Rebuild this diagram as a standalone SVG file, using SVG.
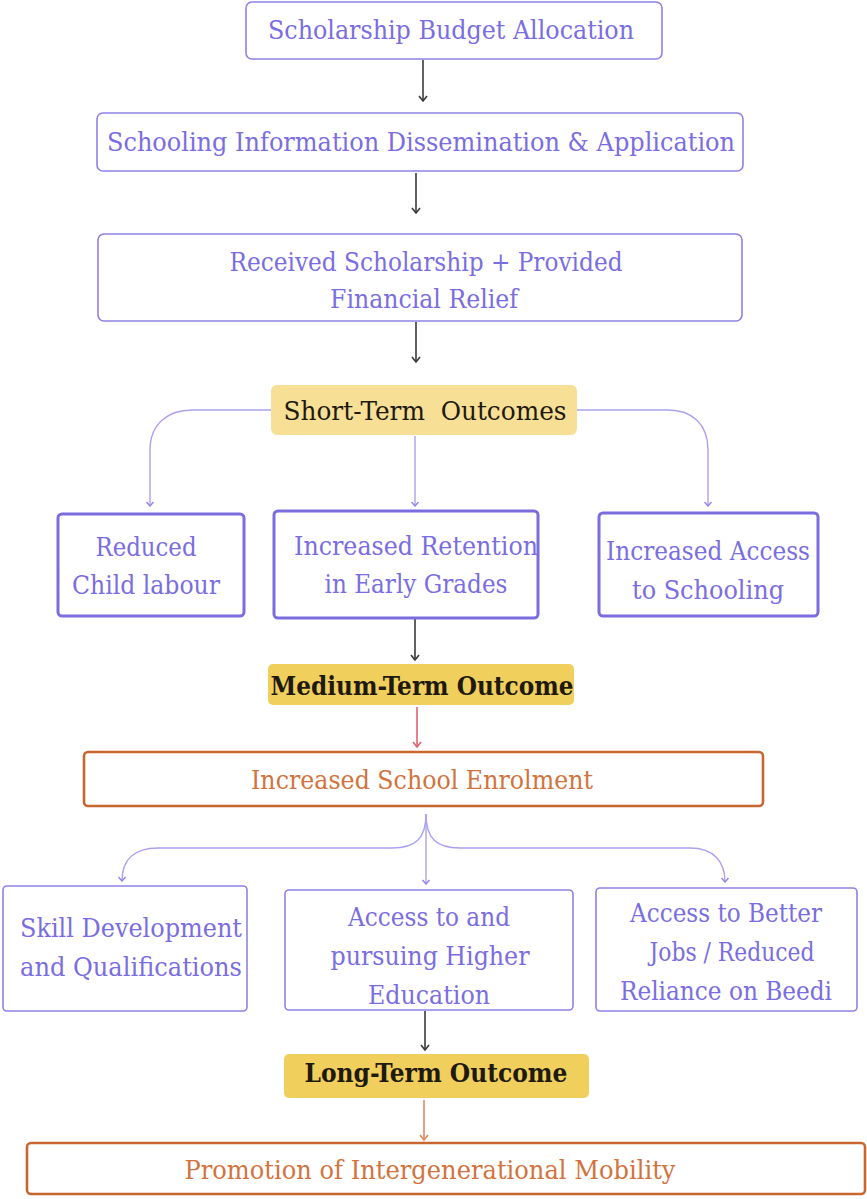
<svg xmlns="http://www.w3.org/2000/svg" width="867" height="1199" viewBox="0 0 867 1199">
  <style>
    text { font-family: "DejaVu Serif Condensed", "DejaVu Serif", "Liberation Serif", serif; font-size: 26px; text-anchor: middle; dominant-baseline: central; }
    .pt { fill: #7a6de2; }
    .ot { fill: #d2733e; }
    .bt { fill: #1e1a10; }
    .bold { font-weight: bold; }
    .pre { white-space: pre; }
    .box { fill: #ffffff; stroke: #8d82e6; stroke-width: 1.6; }
    .box2 { fill: #ffffff; stroke: #7c6ddf; stroke-width: 3; }
    .obox { fill: #ffffff; stroke: #c9662f; stroke-width: 2.6; }
    .ylight { fill: #f7df96; }
    .ydark { fill: #f1cf5c; }
    .dark { fill: none; stroke: #3a3a3a; stroke-width: 1.6; marker-end: url(#ahDark); }
    .lav { fill: none; stroke: #aaa2f0; stroke-width: 1.4; marker-end: url(#ahLav); }
    .red { fill: none; stroke: #e3606f; stroke-width: 1.6; marker-end: url(#ahRed); }
    .org { fill: none; stroke: #e38a5b; stroke-width: 1.6; marker-end: url(#ahOrg); }
  </style>
  <defs>
    <!-- open chevron heads, drawn pointing along +x so orient="auto" follows the line -->
    <marker id="ahDark" viewBox="0 0 10 10" refX="9" refY="5" markerWidth="10" markerHeight="10" markerUnits="userSpaceOnUse" orient="auto">
      <path d="M4,1 L9,5 L4,9" fill="none" stroke="#3a3a3a" stroke-width="1.6"/>
    </marker>
    <marker id="ahLav" viewBox="0 0 10 10" refX="9" refY="5" markerWidth="10" markerHeight="10" markerUnits="userSpaceOnUse" orient="auto">
      <path d="M5,1.5 L9,5 L5,8.5" fill="none" stroke="#8f85ea" stroke-width="1.4"/>
    </marker>
    <marker id="ahRed" viewBox="0 0 10 10" refX="9" refY="5" markerWidth="10" markerHeight="10" markerUnits="userSpaceOnUse" orient="auto">
      <path d="M4,1 L9,5 L4,9" fill="none" stroke="#e3606f" stroke-width="1.6"/>
    </marker>
    <marker id="ahOrg" viewBox="0 0 10 10" refX="9" refY="5" markerWidth="10" markerHeight="10" markerUnits="userSpaceOnUse" orient="auto">
      <path d="M4,1 L9,5 L4,9" fill="none" stroke="#e38a5b" stroke-width="1.6"/>
    </marker>
  </defs>

  <rect width="867" height="1199" fill="#ffffff"/>

  <!-- connectors -->
  <g id="connectors">
    <line class="dark" x1="423" y1="60" x2="423" y2="101"/>
    <line class="dark" x1="416" y1="173" x2="416" y2="213"/>
    <line class="dark" x1="416" y1="322" x2="416" y2="362"/>
    <path class="lav" d="M271,410 L192,410 C168,410 150,424 150,450 L150,506"/>
    <path class="lav" d="M415,436 L415,506"/>
    <path class="lav" d="M577,410 L668,410 C692,410 708,424 708,450 L708,506"/>
    <line class="dark" x1="415" y1="619" x2="415" y2="660"/>
    <line class="red" x1="417" y1="707" x2="417" y2="747"/>
    <path class="lav" d="M426,814 C426,838 416,848 392,848 L158,848 C134,848 122,860 122,881"/>
    <path class="lav" d="M426,814 L426,884"/>
    <path class="lav" d="M426,814 C426,838 436,848 460,848 L690,848 C714,848 725,862 725,882"/>
    <line class="dark" x1="425" y1="1011" x2="425" y2="1050"/>
    <line class="org" x1="424" y1="1100" x2="424" y2="1140"/>
  </g>

  <g id="budget">
    <rect class="box" x="246" y="2" width="416" height="57" rx="6"/>
    <text class="pt" x="451" y="30" textLength="366" lengthAdjust="spacingAndGlyphs">Scholarship Budget Allocation</text>
  </g>

  <g id="dissemination">
    <rect class="box" x="97" y="113" width="646" height="58" rx="6"/>
    <text class="pt" x="421" y="142" textLength="628" lengthAdjust="spacingAndGlyphs">Schooling Information Dissemination &amp; Application</text>
  </g>

  <g id="received">
    <rect class="box" x="98" y="234" width="644" height="87" rx="6"/>
    <text class="pt" x="426" y="262" textLength="393" lengthAdjust="spacingAndGlyphs">Received Scholarship + Provided</text>
    <text class="pt" x="424" y="299" textLength="188" lengthAdjust="spacingAndGlyphs">Financial Relief</text>
  </g>

  <g id="short-term">
    <rect class="ylight" x="271" y="385" width="306" height="50" rx="6"/>
    <text class="bt pre" x="425" y="411" textLength="283" lengthAdjust="spacingAndGlyphs">Short-Term  Outcomes</text>
  </g>

  <g id="child-labour">
    <rect class="box2" x="58" y="514" width="186" height="102" rx="4"/>
    <text class="pt" x="146" y="547" textLength="101" lengthAdjust="spacingAndGlyphs">Reduced</text>
    <text class="pt" x="146" y="585" textLength="148" lengthAdjust="spacingAndGlyphs">Child labour</text>
  </g>

  <g id="retention">
    <rect class="box2" x="274" y="511" width="264" height="107" rx="4"/>
    <text class="pt" x="416" y="546" textLength="244" lengthAdjust="spacingAndGlyphs">Increased Retention</text>
    <text class="pt" x="416" y="584" textLength="183" lengthAdjust="spacingAndGlyphs">in Early Grades</text>
  </g>

  <g id="access-schooling">
    <rect class="box2" x="599" y="513" width="219" height="103" rx="4"/>
    <text class="pt" x="708" y="551" textLength="204" lengthAdjust="spacingAndGlyphs">Increased Access</text>
    <text class="pt" x="708" y="590" textLength="152" lengthAdjust="spacingAndGlyphs">to Schooling</text>
  </g>

  <g id="medium-term">
    <rect class="ydark" x="268" y="664" width="306" height="41" rx="5"/>
    <text class="bt bold" x="422" y="686" textLength="303" lengthAdjust="spacingAndGlyphs">Medium-Term Outcome</text>
  </g>

  <g id="enrolment">
    <rect class="obox" x="84" y="752" width="679" height="54" rx="4"/>
    <text class="ot" x="422" y="780" textLength="342" lengthAdjust="spacingAndGlyphs">Increased School Enrolment</text>
  </g>

  <g id="skills">
    <rect class="box" x="3" y="886" width="244" height="125" rx="4"/>
    <text class="pt" x="131" y="928" textLength="222" lengthAdjust="spacingAndGlyphs">Skill Development</text>
    <text class="pt" x="131" y="967" textLength="222" lengthAdjust="spacingAndGlyphs">and Qualifications</text>
  </g>

  <g id="higher-education">
    <rect class="box" x="285" y="890" width="288" height="120" rx="4"/>
    <text class="pt" x="429" y="917" textLength="162" lengthAdjust="spacingAndGlyphs">Access to and</text>
    <text class="pt" x="430" y="956" textLength="199" lengthAdjust="spacingAndGlyphs">pursuing Higher</text>
    <text class="pt" x="429" y="995" textLength="122" lengthAdjust="spacingAndGlyphs">Education</text>
  </g>

  <g id="better-jobs">
    <rect class="box" x="596" y="888" width="261" height="123" rx="4"/>
    <text class="pt" x="726" y="913" textLength="192" lengthAdjust="spacingAndGlyphs">Access to Better</text>
    <text class="pt" x="732" y="952" textLength="165" lengthAdjust="spacingAndGlyphs">Jobs / Reduced</text>
    <text class="pt" x="726" y="991" textLength="212" lengthAdjust="spacingAndGlyphs">Reliance on Beedi</text>
  </g>

  <g id="long-term">
    <rect class="ydark" x="284" y="1054" width="305" height="44" rx="5"/>
    <text class="bt bold" x="436" y="1073" textLength="263" lengthAdjust="spacingAndGlyphs">Long-Term Outcome</text>
  </g>

  <g id="mobility">
    <rect class="obox" x="27" y="1143" width="838" height="51" rx="4"/>
    <text class="ot" x="430" y="1170" textLength="491" lengthAdjust="spacingAndGlyphs">Promotion of Intergenerational Mobility</text>
  </g>
</svg>
